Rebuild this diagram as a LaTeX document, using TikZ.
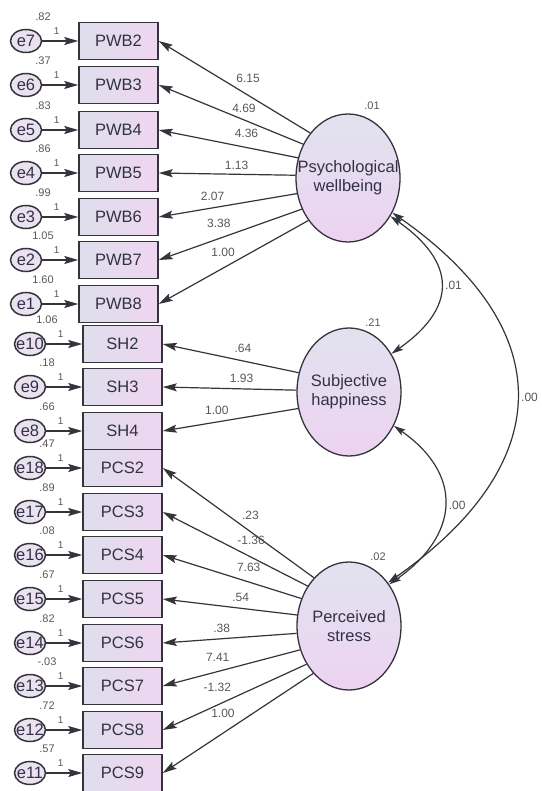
\documentclass[tikz,border=0pt]{standalone}
\usepackage{fontspec}
\setmainfont{Liberation Sans}
\usepackage{xcolor}
\definecolor{boxleft}{RGB}{222, 222, 236}
\definecolor{boxright}{RGB}{239, 214, 241}
\definecolor{lattop}{RGB}{226, 226, 239}
\definecolor{latbot}{RGB}{237, 211, 241}
\definecolor{errfill}{RGB}{234, 226, 241}
\definecolor{edgegray}{RGB}{52, 52, 60}
\definecolor{txtgray}{RGB}{50, 50, 70}
\definecolor{labgray}{RGB}{88, 88, 88}
\usepackage{tikz}
\usetikzlibrary{
    shapes.geometric,
    arrows.meta,
    positioning
}
\tikzstyle{obs} = [
    rectangle,
    draw=edgegray,
    line width=1.5pt,
    minimum width=79pt,
    minimum height=37pt,
    inner sep=0pt,
    left color=boxleft,
    right color=boxright,
    text=txtgray,
    font=\fontsize{16.5}{16.5}\selectfont
]
\tikzstyle{latent} = [
    ellipse,
    draw=edgegray,
    line width=1.3pt,
    minimum width=104pt,
    minimum height=128pt,
    inner sep=0pt,
    top color=lattop,
    bottom color=latbot
]
\tikzstyle{load} = [
    draw=edgegray,
    line width=1.2pt,
    -{Stealth[length=14pt, width=8pt, inset=2.5pt]}
]
\tikzstyle{cov} = [
    draw=edgegray,
    line width=1.2pt,
    {Stealth[length=12pt, width=7pt, inset=2.5pt]}-{Stealth[length=12pt, width=7pt, inset=2.5pt]}
]

\begin{document}
\begin{tikzpicture}[
    x=1pt, y=1pt,
    err/.style={
        ellipse,
        draw=edgegray,
        line width=1.5pt,
        minimum width=31pt,
        minimum height=23pt,
        inner sep=0pt,
        fill=errfill,
        label={[text=txtgray, font=\fontsize{16.5}{16.5}\selectfont]center:#1}
    },
    lattxt/.style={
        align=center,
        text=txtgray,
        font=\fontsize{16.5}{19}\selectfont
    },
    coef/.style={text=labgray, font=\fontsize{12}{12}\selectfont, inner sep=0pt},
    var/.style={text=labgray, font=\fontsize{11}{11}\selectfont, inner sep=0pt},
    one/.style={text=labgray, font=\fontsize{10}{10}\selectfont, inner sep=0pt, pos=0.4, yshift=10pt}
]
\path [use as bounding box, fill=white] (0,0) rectangle (541,-791);

% indicators
\node (pwb2) [obs] at (118.5,-41) {PWB2};
\node (pwb3) [obs] at (118.5,-85) {PWB3};
\node (pwb4) [obs] at (118.5,-130) {PWB4};
\node (pwb5) [obs] at (118.5,-173) {PWB5};
\node (pwb6) [obs] at (118.5,-217) {PWB6};
\node (pwb7) [obs] at (118.5,-260) {PWB7};
\node (pwb8) [obs] at (118.5,-304) {PWB8};
\node (sh2) [obs] at (122.5,-344) {SH2};
\node (sh3) [obs] at (122.5,-387) {SH3};
\node (sh4) [obs] at (122.5,-431) {SH4};
\node (pcs2) [obs] at (122.5,-468) {PCS2};
\node (pcs3) [obs] at (122.5,-512) {PCS3};
\node (pcs4) [obs] at (122.5,-555) {PCS4};
\node (pcs5) [obs] at (122.5,-599) {PCS5};
\node (pcs6) [obs] at (122.5,-643) {PCS6};
\node (pcs7) [obs] at (122.5,-686) {PCS7};
\node (pcs8) [obs] at (122.5,-730) {PCS8};
\node (pcs9) [obs] at (122.5,-773) {PCS9};

% error terms
\node (e7) [err=e7, left=36pt of pwb2] {};
\node (e6) [err=e6, left=36pt of pwb3] {};
\node (e5) [err=e5, left=36pt of pwb4] {};
\node (e4) [err=e4, left=36pt of pwb5] {};
\node (e3) [err=e3, left=36pt of pwb6] {};
\node (e2) [err=e2, left=36pt of pwb7] {};
\node (e1) [err=e1, left=36pt of pwb8] {};
\node (e10) [err=e10, left=36pt of sh2] {};
\node (e9) [err=e9, left=36pt of sh3] {};
\node (e8) [err=e8, left=36pt of sh4] {};
\node (e18) [err=e18, left=36pt of pcs2] {};
\node (e17) [err=e17, left=36pt of pcs3] {};
\node (e16) [err=e16, left=36pt of pcs4] {};
\node (e15) [err=e15, left=36pt of pcs5] {};
\node (e14) [err=e14, left=36pt of pcs6] {};
\node (e13) [err=e13, left=36pt of pcs7] {};
\node (e12) [err=e12, left=36pt of pcs8] {};
\node (e11) [err=e11, left=36pt of pcs9] {};

\draw [load] (e7) -- node[one] {1} (pwb2);
\draw [load] (e6) -- node[one] {1} (pwb3);
\draw [load] (e5) -- node[one] {1} (pwb4);
\draw [load] (e4) -- node[one] {1} (pwb5);
\draw [load] (e3) -- node[one] {1} (pwb6);
\draw [load] (e2) -- node[one] {1} (pwb7);
\draw [load] (e1) -- node[one] {1} (pwb8);
\draw [load] (e10) -- node[one] {1} (sh2);
\draw [load] (e9) -- node[one] {1} (sh3);
\draw [load] (e8) -- node[one] {1} (sh4);
\draw [load] (e18) -- node[one] {1} (pcs2);
\draw [load] (e17) -- node[one] {1} (pcs3);
\draw [load] (e16) -- node[one] {1} (pcs4);
\draw [load] (e15) -- node[one] {1} (pcs5);
\draw [load] (e14) -- node[one] {1} (pcs6);
\draw [load] (e13) -- node[one] {1} (pcs7);
\draw [load] (e12) -- node[one] {1} (pcs8);
\draw [load] (e11) -- node[one] {1} (pcs9);

% error variances
\node [var] at ([shift={(17,24)}]e7.center) {.82};
\node [var] at ([shift={(17,24)}]e6.center) {.37};
\node [var] at ([shift={(17,24)}]e5.center) {.83};
\node [var] at ([shift={(17,24)}]e4.center) {.86};
\node [var] at ([shift={(17,24)}]e3.center) {.99};
\node [var] at ([shift={(17,24)}]e2.center) {1.05};
\node [var] at ([shift={(17,24)}]e1.center) {1.60};
\node [var] at ([shift={(17,24)}]e10.center) {1.06};
\node [var] at ([shift={(17,24)}]e9.center) {.18};
\node [var] at ([shift={(17,24)}]e8.center) {.66};
\node [var] at ([shift={(17,24)}]e18.center) {.47};
\node [var] at ([shift={(17,24)}]e17.center) {.89};
\node [var] at ([shift={(17,24)}]e16.center) {.08};
\node [var] at ([shift={(17,24)}]e15.center) {.67};
\node [var] at ([shift={(17,24)}]e14.center) {.82};
\node [var] at ([shift={(17,24)}]e13.center) {-.03};
\node [var] at ([shift={(17,24)}]e12.center) {.72};
\node [var] at ([shift={(17,24)}]e11.center) {.57};

% latent variables
\node (pw) [latent, label={[lattxt]center:Psychological\\wellbeing}] at (348,-178) {};
\node (sh) [latent, label={[lattxt]center:Subjective\\happiness}] at (349,-392) {};
\node (ps) [latent, label={[lattxt]center:Perceived\\stress}] at (349,-626) {};

\node [var] at ([shift={(24,72)}]pw.center) {.01};
\node [var] at ([shift={(24,69)}]sh.center) {.21};
\node [var] at ([shift={(29,69)}]ps.center) {.02};

% loadings
\draw [load] (pw.130) -- node[coef, pos=0.41, yshift=17pt] {6.15} (pwb2.east);
\draw [load] (pw.143) -- node[coef, pos=0.41, yshift=12pt] {4.69} (pwb3.east);
\draw [load] (pw.158) -- node[coef, pos=0.37, yshift=14pt] {4.36} (pwb4.east);
\draw [load] (pw.177) -- node[coef, pos=0.43, yshift=9pt] {1.13} (pwb5.east);
\draw [load] (pw.197) -- node[coef, pos=0.61, yshift=12pt] {2.07} (pwb6.east);
\draw [load] (pw.214) -- node[coef, pos=0.58, yshift=15pt] {3.38} (pwb7.east);
\draw [load] (pw.227) -- node[coef, pos=0.57, yshift=16pt] {1.00} (pwb8.east);

\draw [load] (sh.159) -- node[coef, pos=0.41, yshift=13pt] {.64} (sh2.east);
\draw [load] (sh.178) -- node[coef, pos=0.41, yshift=10pt] {1.93} (sh3.east);
\draw [load] (sh.198) -- node[coef, pos=0.60, yshift=12pt] {1.00} (sh4.east);

\draw [load] (ps.126) -- node[coef, pos=0.42, yshift=16pt] {.23} (pcs2.east);
\draw [load] (ps.136) -- node[coef, pos=0.39, yshift=17pt] {-1.36} (pcs3.east);
\draw [load] (ps.150) -- node[coef, pos=0.38, yshift=15pt] {7.63} (pcs4.east);
\draw [load] (ps.168) -- node[coef, pos=0.42, yshift=11pt] {.54} (pcs5.east);
\draw [load] (ps.188) -- node[coef, pos=0.56, yshift=10pt] {.38} (pcs6.east);
\draw [load] (ps.206) -- node[coef, pos=0.60, yshift=14pt] {7.41} (pcs7.east);
\draw [load] (ps.222) -- node[coef, pos=0.62, yshift=18pt] {-1.32} (pcs8.east);
\draw [load] (ps.233) -- node[coef, pos=0.60, yshift=20pt] {1.00} (pcs9.east);

% covariances
\draw [cov] (pw.318) to[out=-35, in=35, looseness=1.5]
    node[coef, right=4pt] {.01} (sh.42);
\draw [cov] (sh.323) to[out=-35, in=35, looseness=1.38]
    node[coef, right=4pt] {.00} (ps.46);
\draw [cov] (pw.322) to[out=-35, in=35, looseness=1.42]
    node[coef, right=4pt] {.00} (ps.48);

\end{tikzpicture}
\end{document}
